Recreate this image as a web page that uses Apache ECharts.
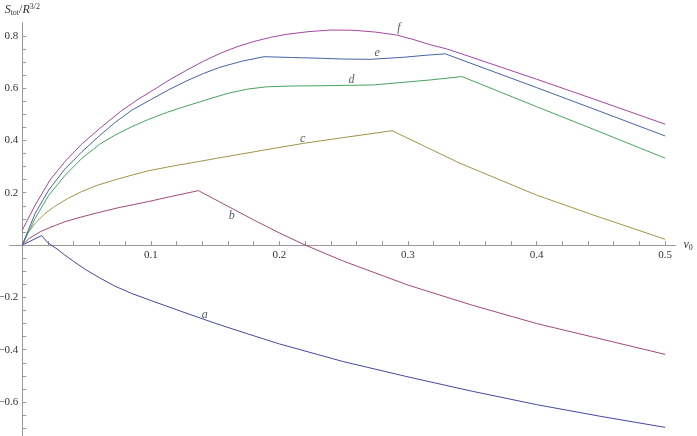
<!DOCTYPE html>
<html>
<head>
<meta charset="utf-8">
<script src="https://cdn.jsdelivr.net/npm/echarts@6/dist/echarts.min.js"></script>
<style>
  html, body { margin: 0; padding: 0; background: #fff; }
  #main { width: 697px; height: 436px; }
</style>
</head>
<body>
<div id="main"></div>
<script>
// curve data (v0, S/R^{3/2})
var aX = [0, 0.015, 0.02, 0.027, 0.033, 0.04, 0.049, 0.06, 0.072, 0.085, 0.1, 0.125, 0.15, 0.175, 0.2, 0.25, 0.3, 0.35, 0.4, 0.45, 0.5];
var aY = [0, 0.036, 0.008, -0.015, -0.038, -0.063, -0.093, -0.125, -0.157, -0.185, -0.212, -0.256, -0.299, -0.339, -0.378, -0.446, -0.504, -0.559, -0.61, -0.655, -0.697];

var bX = [0, 0.005, 0.014, 0.022, 0.033, 0.045, 0.059, 0.075, 0.098, 0.115, 0.137, 0.16, 0.18, 0.2, 0.22, 0.25, 0.3, 0.35, 0.4, 0.45, 0.5];
var bY = [0, 0.024, 0.051, 0.068, 0.089, 0.106, 0.124, 0.143, 0.166, 0.185, 0.208, 0.148, 0.096, 0.046, 0, -0.062, -0.153, -0.23, -0.3, -0.359, -0.418];

var cX = [0, 0.004, 0.01, 0.017, 0.025, 0.035, 0.046, 0.058, 0.072, 0.085, 0.098, 0.117, 0.137, 0.155, 0.174, 0.195, 0.219, 0.25, 0.2876, 0.3405, 0.4, 0.444, 0.5];
var cY = [0, 0.045, 0.083, 0.118, 0.147, 0.177, 0.204, 0.228, 0.249, 0.267, 0.284, 0.302, 0.319, 0.335, 0.351, 0.369, 0.389, 0.411, 0.437, 0.3125, 0.191, 0.115, 0.022];

var dX = [0, 0.01, 0.0205, 0.033, 0.046, 0.06, 0.072, 0.085, 0.098, 0.113, 0.128, 0.145, 0.16, 0.175, 0.19, 0.21, 0.232, 0.273, 0.317, 0.342, 0.4, 0.444, 0.5];
var dY = [0, 0.102, 0.19, 0.265, 0.33, 0.385, 0.42, 0.452, 0.48, 0.508, 0.532, 0.558, 0.58, 0.596, 0.605, 0.608, 0.609, 0.612, 0.631, 0.644, 0.529, 0.443, 0.332];

var eX = [0, 0.01, 0.0205, 0.033, 0.046, 0.06, 0.072, 0.085, 0.1, 0.114, 0.128, 0.141, 0.154, 0.171, 0.188, 0.21, 0.232, 0.25, 0.271, 0.297, 0.315, 0.329, 0.3405, 0.4, 0.444, 0.5];
var eY = [0, 0.121, 0.21, 0.29, 0.355, 0.418, 0.468, 0.515, 0.556, 0.594, 0.628, 0.656, 0.68, 0.703, 0.72, 0.717, 0.714, 0.711, 0.71, 0.718, 0.726, 0.731, 0.71, 0.602, 0.521, 0.417];

var fX = [0, 0.01, 0.0216, 0.033, 0.046, 0.06, 0.0762, 0.09, 0.102, 0.115, 0.128, 0.141, 0.154, 0.167, 0.18, 0.193, 0.206, 0.223, 0.24, 0.258, 0.275, 0.291, 0.304, 0.317, 0.33, 0.3405, 0.4, 0.444, 0.5];
var fY = [0.057, 0.153, 0.249, 0.318, 0.385, 0.445, 0.51, 0.557, 0.593, 0.633, 0.669, 0.703, 0.733, 0.758, 0.778, 0.794, 0.806, 0.816, 0.822, 0.821, 0.814, 0.803, 0.786, 0.766, 0.75, 0.733, 0.634, 0.559, 0.462];

var curveNames = ['a', 'b', 'c', 'd', 'e', 'f'];
var curveColors = ['#4646a6', '#a4487c', '#a39448', '#48a460', '#4864a4', '#a448a4'];

// curve labels
var labelX = [0.142, 0.163, 0.218, 0.256, 0.276, 0.293];
var labelY = [-0.268, 0.111, 0.406, 0.631, 0.735, 0.83];

// axis ticks
var xLabelVals = [0.1, 0.2, 0.3, 0.4, 0.5];
var xTickVals = [0.02, 0.04, 0.06, 0.08, 0.1, 0.12, 0.14, 0.16, 0.18, 0.2, 0.22, 0.24, 0.26, 0.28, 0.3,
                 0.32, 0.34, 0.36, 0.38, 0.4, 0.42, 0.44, 0.46, 0.48, 0.5];
var yLabelVals = [-0.6, -0.4, -0.2, 0.2, 0.4, 0.6, 0.8];
var yTickVals = [-0.7, -0.65, -0.6, -0.55, -0.5, -0.45, -0.4, -0.35, -0.3, -0.25, -0.2, -0.15, -0.1, -0.05,
                 0.05, 0.1, 0.15, 0.2, 0.25, 0.3, 0.35, 0.4, 0.45, 0.5, 0.55, 0.6, 0.65, 0.7, 0.75, 0.8];

var xsAll = [aX, bX, cX, dX, eX, fX];
var ysAll = [aY, bY, cY, dY, eY, fY];

var serif = '"Liberation Serif", "DejaVu Serif", serif';

function pairs(xs, ys) {
    return xs.map(function (x, i) { return [x, ys[i]]; });
}

var series = curveNames.map(function (n, k) {
    return {
        name: n,
        type: 'line',
        data: pairs(xsAll[k], ysAll[k]),
        showSymbol: false,
        symbol: 'none',
        lineStyle: { width: 1, color: curveColors[k] },
        z: 3
    };
});

series.push({
    type: 'scatter',
    symbolSize: 0,
    data: labelX.map(function (x, i) { return { name: curveNames[i], value: [x, labelY[i]] }; }),
    label: {
        show: true,
        position: 'inside',
        formatter: '{b}',
        fontFamily: serif,
        fontStyle: 'italic',
        fontSize: 12,
        color: '#333'
    },
    silent: true,
    z: 4
});

var myChart = echarts.init(document.getElementById('main'));
var option = {
    animation: false,
    backgroundColor: '#fff',
    grid: { left: 9.45, right: 21.6, top: 22.7, bottom: 0, containLabel: false, outerBoundsMode: 'none' },
    xAxis: {
        type: 'value',
        position: 'bottom',
        min: -0.01,
        max: 0.508,
        name: '{i|v}{s|0}',
        nameLocation: 'end',
        nameGap: 8,
        nameTextStyle: {
            rich: {
                i: { fontFamily: serif, fontStyle: 'italic', fontSize: 12, color: '#333' },
                s: { fontFamily: serif, fontSize: 8, color: '#333', padding: [6, 0, 0, 0] }
            }
        },
        axisLine: { onZero: false, lineStyle: { color: '#999', width: 1 } },
        axisTick: { show: true, inside: true, length: 4, customValues: xTickVals, lineStyle: { color: '#999' } },
        axisLabel: {
            customValues: xLabelVals,
            margin: 5,
            fontFamily: serif,
            fontSize: 11,
            color: '#333',
            formatter: function (v) { return String(Math.round(v * 10) / 10); }
        },
        splitLine: { show: false }
    },
    yAxis: {
        type: 'value',
        position: 'left',
        min: -0.73,
        max: 0.85,
        name: '{i|S}{s|tot}{n|/}{i|R}{p|3/2}',
        nameLocation: 'end',
        nameGap: 6,
        nameTextStyle: {
            rich: {
                i: { fontFamily: serif, fontStyle: 'italic', fontSize: 12, color: '#333' },
                n: { fontFamily: serif, fontSize: 12, color: '#333' },
                s: { fontFamily: serif, fontSize: 8, color: '#333', padding: [6, 0, 0, 0] },
                p: { fontFamily: serif, fontSize: 8, color: '#333', padding: [0, 0, 6, 0] }
            }
        },
        axisLine: { onZero: false, lineStyle: { color: '#999', width: 1 } },
        axisTick: { show: true, inside: true, length: 4, customValues: yTickVals, lineStyle: { color: '#999' } },
        axisLabel: {
            customValues: yLabelVals,
            margin: 4,
            fontFamily: serif,
            fontSize: 11,
            color: '#333',
            formatter: function (v) {
                var s = String(Math.round(v * 10) / 10);
                return s.replace('-', '\u2212');
            }
        },
        splitLine: { show: false }
    },
    series: series
};
myChart.setOption(option);

// move both axes (line, ticks, labels) onto the zero lines
var grid = myChart.getModel().getComponent('grid').coordinateSystem.getRect();
var zeroPx = myChart.convertToPixel({ gridIndex: 0 }, [0, 0]);
myChart.setOption({
    xAxis: { offset: -(grid.y + grid.height - zeroPx[1]) },
    yAxis: { offset: -(zeroPx[0] - grid.x) }
});
</script>
</body>
</html>
